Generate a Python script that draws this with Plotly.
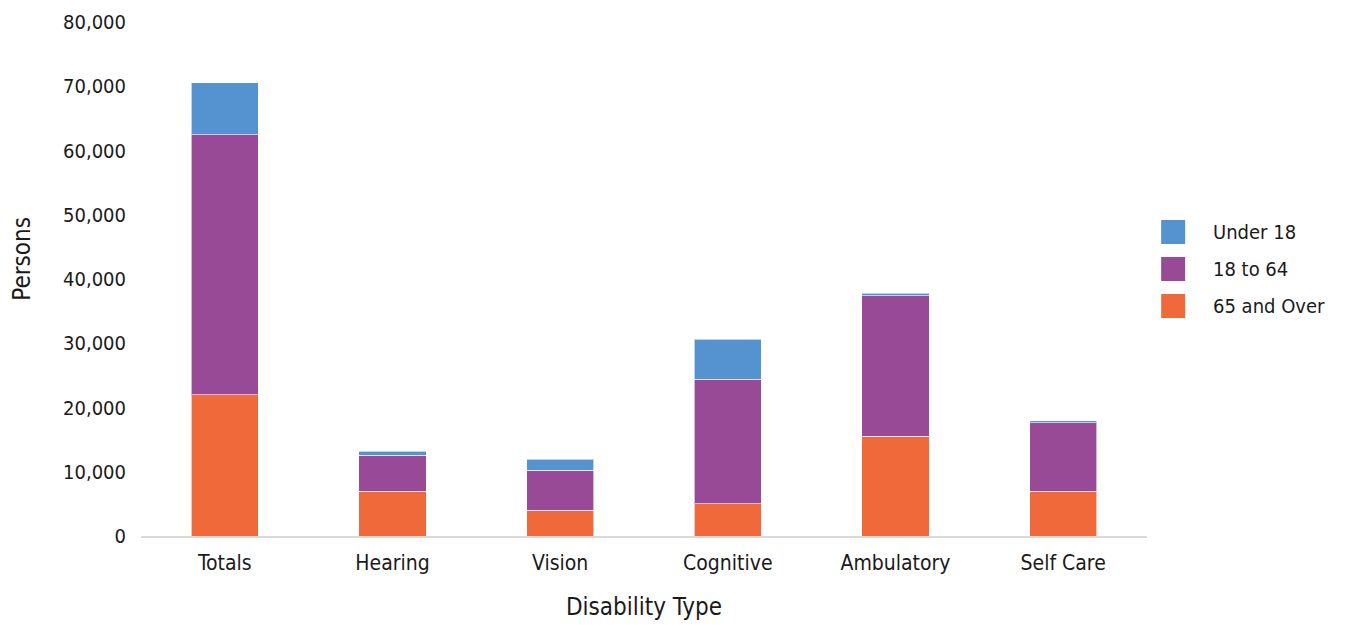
import plotly.graph_objects as go

categories = ["Totals", "Hearing", "Vision", "Cognitive", "Ambulatory", "Self Care"]
over_65 = [22000, 7000, 4000, 5000, 15500, 7000]
age_18_64 = [40450, 5600, 6230, 19400, 21900, 10600]
under_18 = [8100, 630, 1700, 6200, 400, 300]

series_names = ["65 and Over", "18 to 64", "Under 18"]
series_values = [over_65, age_18_64, under_18]
series_colors = ["#F0693B", "#984A97", "#5593D0"]

FONT = "DejaVu Sans Condensed, Roboto, sans-serif"

fig = go.Figure()
for name, vals, color in zip(series_names, series_values, series_colors):
    fig.add_trace(go.Bar(
        x=categories, y=vals, name=name, showlegend=False,
        marker=dict(color=color, line=dict(color="rgba(255,255,255,0.6)", width=1)),
    ))

# Key to the right of the plot: 24px squares with labels, top row = Under 18
key_top = 0.5914          # paper y of first row centre
key_step = 37 / 514       # row spacing in paper units
for i, (name, color) in enumerate(zip(reversed(series_names), reversed(series_colors))):
    yc = key_top - i * key_step
    fig.add_shape(
        type="rect", xref="paper", yref="paper",
        xsizemode="pixel", ysizemode="pixel",
        xanchor=1.026, yanchor=yc, x0=-12, x1=12, y0=-12, y1=12,
        fillcolor=color, line=dict(width=0),
    )
    fig.add_annotation(
        xref="paper", yref="paper", x=1.064, y=yc,
        xanchor="left", yanchor="middle", showarrow=False,
        text=name, font=dict(size=20, family=FONT, color="#1a1a1a"),
    )

# Vertical axis title, set slightly above the plot's mid-height
fig.add_annotation(
    xref="paper", yref="paper", x=-0.118, y=0.54,
    xanchor="center", yanchor="middle", showarrow=False, textangle=-90,
    text="Persons", font=dict(size=24, family=FONT, color="#1a1a1a"),
)

fig.update_layout(
    barmode="stack",
    bargap=0.6,
    width=1348, height=625,
    margin=dict(l=141, r=201, t=22, b=89),
    paper_bgcolor="white",
    plot_bgcolor="white",
    showlegend=False,
    font=dict(family=FONT, color="#1a1a1a", size=20),
    xaxis=dict(
        title=dict(text="Disability Type", font=dict(size=24, family=FONT), standoff=24),
        tickfont=dict(size=21, family=FONT),
        showline=True, linecolor="#d9d9d9", linewidth=2,
        ticks="", showgrid=False,
        ticklabelstandoff=7,
        automargin=False,
    ),
    yaxis=dict(
        range=[0, 80000], dtick=10000, tickformat=",d",
        tickfont=dict(size=20, family=FONT),
        showgrid=False, zeroline=False, ticks="",
        ticklabelstandoff=14,
        automargin=False,
    ),
)

fig.write_html("out.html")
